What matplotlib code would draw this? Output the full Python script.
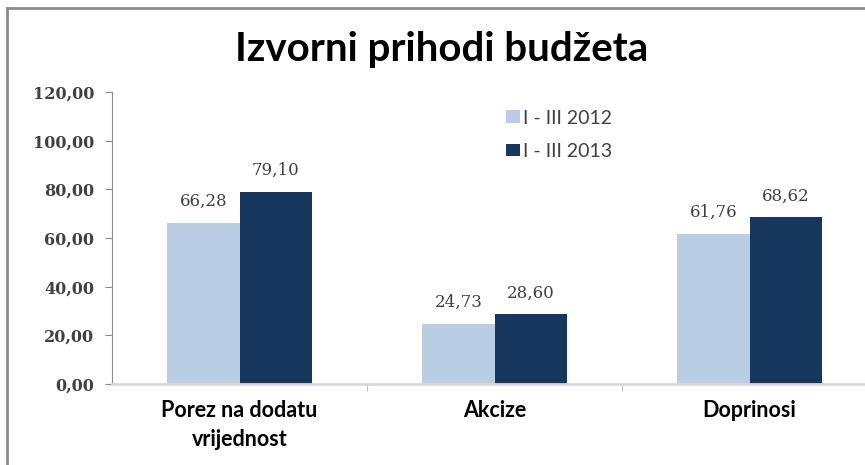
import numpy as np
import matplotlib.pyplot as plt
from matplotlib.lines import Line2D

categories = ["Porez na dodatu\nvrijednost", "Akcize", "Doprinosi"]
series_names = ["I - III 2012", "I - III 2013"]
vals_2012 = [66.28, 24.73, 61.76]
vals_2013 = [79.10, 28.60, 68.62]
yticks = [0, 20, 40, 60, 80, 100, 120]

light = "#B9CDE5"
dark = "#17375E"
txt = "#404040"

fig = plt.figure(figsize=(8.65, 4.65), dpi=100)
ax = fig.add_axes([112/865, 1-384/465, 765/865, 292/465])

x = np.arange(len(categories))
w = 0.284
b1 = ax.bar(x - w/2, vals_2012, w, color=light, label=series_names[0])
b2 = ax.bar(x + w/2, vals_2013, w, color=dark, label=series_names[1])

fmt = lambda v: ("%.2f" % v).replace(".", ",")
for bars, vals in [(b1, vals_2012), (b2, vals_2013)]:
    for r, v in zip(bars, vals):
        ax.annotate(fmt(v), (r.get_x() + r.get_width()/2, v), xytext=(0, 9),
                    textcoords="offset points", ha="center", va="bottom",
                    fontsize=12, family="DejaVu Serif", color=txt)

ax.set_xlim(-0.5, 2.5)
ax.set_ylim(0, 120)
ax.set_yticks(yticks)
ax.set_yticklabels([fmt(v) for v in yticks], family="DejaVu Serif",
                   fontsize=11.5, fontweight="bold", color=txt)
ax.tick_params(axis="y", length=5, color="#8c8c8c", pad=8)

# category labels between the boundary ticks
ax.set_xticks([0.5, 1.5], minor=False)
ax.set_xticklabels([])
ax.tick_params(axis="x", length=5, color="#bfbfbf", direction="out")
for i, c in enumerate(categories):
    ax.text(i, -6.5, c, ha="center", va="top", fontsize=15.5, fontweight="bold",
            family="Lato", color="black", linespacing=1.5)

for s in ["top", "right"]:
    ax.spines[s].set_visible(False)
ax.spines["left"].set_color("#8c8c8c")
ax.spines["bottom"].set_color("#d9d9d9")
ax.spines["bottom"].set_linewidth(2)

leg = ax.legend(loc="upper left", bbox_to_anchor=(488/865, 1-92/465),
                bbox_transform=fig.transFigure, frameon=False,
                handlelength=0.75, handleheight=0.6, handletextpad=0.15,
                labelspacing=0.85, prop={"family": "Lato", "size": 14})
for t in leg.get_texts():
    t.set_color(txt)

fig.text(442/865, 1-50/465, "Izvorni prihodi budžeta", ha="center", va="center",
         fontsize=29, fontweight="bold", family="Lato", color="black")

# outer frame (only top and left visible)
fig.add_artist(Line2D([7/865, 1], [1-8/465, 1-8/465], transform=fig.transFigure,
                      color="#8c8c8c", lw=2))
fig.add_artist(Line2D([7/865, 7/865], [0, 1-8/465], transform=fig.transFigure,
                      color="#8c8c8c", lw=2))

fig.savefig("out.png", dpi=100)
